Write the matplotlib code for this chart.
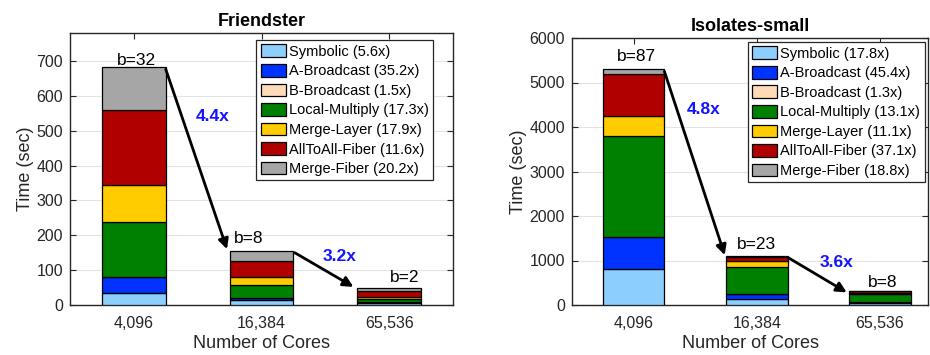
import matplotlib
matplotlib.use("Agg")
import matplotlib.pyplot as plt
import numpy as np

plt.rcParams['font.family'] = ['Liberation Sans', 'DejaVu Sans']

# ---- data ----
cores = ['4,096', '16,384', '65,536']
components = ['Symbolic', 'A-Broadcast', 'B-Broadcast', 'Local-Multiply',
              'Merge-Layer', 'AllToAll-Fiber', 'Merge-Fiber']
colors = ['#8CCFFF', '#0033FF', '#FFDAB9', '#008000', '#FFCC00', '#B00000', '#A6A6A6']

# Friendster: time (sec) per component at 4,096 / 16,384 / 65,536 cores
fr_symbolic = [34.5, 15.0, 6.2]
fr_abcast = [46.0, 5.0, 1.3]
fr_bbcast = [0.9, 0.7, 0.6]
fr_localmul = [157.0, 36.0, 9.1]
fr_mergelayer = [106.0, 24.0, 5.9]
fr_alltoall = [214.0, 46.0, 18.4]
fr_mergefiber = [123.0, 28.0, 6.1]
fr_speedup = [5.6, 35.2, 1.5, 17.3, 17.9, 11.6, 20.2]
fr_batches = ['b=32', 'b=8', 'b=2']
fr_step_speedup = ['4.4x', '3.2x']

# Isolates-small
is_symbolic = [800.0, 140.0, 45.0]
is_abcast = [725.0, 100.0, 16.0]
is_bbcast = [12.0, 8.0, 5.0]
is_localmul = [2255.0, 610.0, 172.0]
is_mergelayer = [450.0, 125.0, 40.5]
is_alltoall = [950.0, 90.0, 25.6]
is_mergefiber = [120.0, 36.0, 6.4]
is_speedup = [17.8, 45.4, 1.3, 13.1, 11.1, 37.1, 18.8]
is_batches = ['b=87', 'b=23', 'b=8']
is_step_speedup = ['4.8x', '3.6x']

fr_series = [fr_symbolic, fr_abcast, fr_bbcast, fr_localmul,
             fr_mergelayer, fr_alltoall, fr_mergefiber]
is_series = [is_symbolic, is_abcast, is_bbcast, is_localmul,
             is_mergelayer, is_alltoall, is_mergefiber]

W, H = 930, 355
fig = plt.figure(figsize=(W / 100, H / 100), dpi=100)


def px_axes(l, t, r, b):
    return fig.add_axes([l / W, 1 - b / H, (r - l) / W, (b - t) / H])


ax1 = px_axes(70, 33, 453, 305)
ax2 = px_axes(572, 38, 928, 305)

dark = '#262626'


def draw_panel(ax, series, speedup, title, ylim, yticks, xlim,
               batches, b_pos, steps, step_pos, arrows, leg_anchor):
    x = np.arange(1, len(cores) + 1)
    bottom = np.zeros(len(cores))
    handles = []
    for vals, col, name, sp in zip(series, colors, components, speedup):
        h = ax.bar(x, vals, width=0.5, bottom=bottom, color=col,
                   edgecolor='black', linewidth=0.9, zorder=3,
                   label=f'{name} ({sp}x)')
        bottom += np.array(vals)
        handles.append(h)
    ax.set_xlim(*xlim)
    ax.set_ylim(*ylim)
    ax.set_yticks(yticks)
    ax.set_xticks(x)
    ax.set_xticklabels(cores)
    ax.yaxis.grid(True, color='#E3E3E3', linewidth=0.8, zorder=0)
    ax.set_axisbelow(True)
    ax.tick_params(direction='in', length=4, width=0.8, colors=dark,
                   labelsize=11.5, top=True, right=True)
    ax.tick_params(axis='x', pad=8)
    ax.tick_params(axis='y', pad=5)
    for s in ax.spines.values():
        s.set_color(dark)
        s.set_linewidth(1.0)
    ax.set_title(title, fontsize=13, fontweight='bold', pad=5)
    ax.set_xlabel('Number of Cores', fontsize=13, color=dark, labelpad=3)
    ax.set_ylabel('Time (sec)', fontsize=13, color=dark, labelpad=2)
    for txt, (bx, by) in zip(batches, b_pos):
        ax.text(bx, by, txt, ha='center', va='center', fontsize=12.5,
                color='black', zorder=5)
    for txt, (sx, sy) in zip(steps, step_pos):
        ax.text(sx, sy, txt, ha='center', va='center', fontsize=12.5,
                fontweight='bold', color='#1414FF', zorder=5)
    for (x0, y0), (x1, y1) in arrows:
        ax.annotate('', xy=(x1, y1), xytext=(x0, y0),
                    arrowprops=dict(arrowstyle='-|>', color='black', lw=2.0,
                                    mutation_scale=15, shrinkA=0, shrinkB=0),
                    zorder=6)
    leg = ax.legend(handles=handles, loc='upper left',
                    bbox_to_anchor=leg_anchor, fontsize=10.5,
                    frameon=True, fancybox=False, framealpha=1,
                    edgecolor=dark, borderpad=0.3, labelspacing=0.36,
                    handlelength=1.75, handleheight=0.95, handletextpad=0.2,
                    borderaxespad=0)
    leg.get_frame().set_linewidth(0.9)
    leg.set_zorder(10)


draw_panel(ax1, fr_series, fr_speedup, 'Friendster', (0, 780),
           np.arange(0, 701, 100), (0.5, 3.5),
           fr_batches, [(1.02, 702), (1.9, 190), (3.12, 80)],
           fr_step_speedup, [(1.62, 541), (2.61, 140)],
           [((1.25, 676), (1.73, 160)), ((2.26, 150), (2.72, 52))],
           (0.486, 0.974))

draw_panel(ax2, is_series, is_speedup, 'Isolates-small', (0, 6000),
           np.arange(0, 6001, 1000), (0.5, 3.39),
           is_batches, [(1.02, 5580), (2.0, 1355), (3.02, 508)],
           is_step_speedup, [(1.57, 4390), (2.65, 944)],
           [((1.25, 5250), (1.74, 1120)), ((2.26, 1056), (2.73, 283))],
           (0.493, 0.985))

fig.savefig('out.png', dpi=100)
